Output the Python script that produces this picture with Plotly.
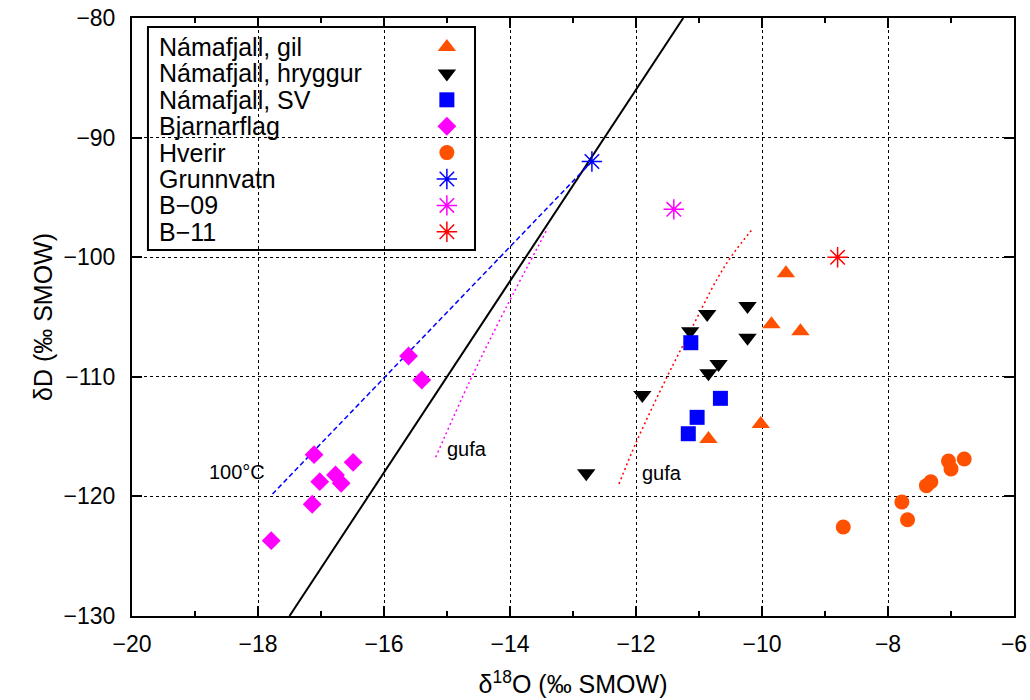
import plotly.graph_objects as go

# --- sample data: δ18O (x) and δD (y), ‰ SMOW ---
gil_x = [-9.62, -9.85, -9.39, -10.02, -10.85]
gil_y = [-101.35, -105.6, -106.2, -113.95, -115.2]

hryggur_x = [-10.87, -10.23, -11.14, -10.23, -10.69, -10.85, -11.90, -12.79]
hryggur_y = [-104.75, -104.08, -106.2, -106.73, -108.93, -109.7, -111.52, -118.07]

sv_x = [-11.13, -10.66, -11.03, -11.17]
sv_y = [-107.15, -111.8, -113.39, -114.76]

bjarnarflag_x = [-15.61, -15.40, -17.11, -16.49, -17.02, -16.77, -16.68, -17.14, -17.79]
bjarnarflag_y = [-108.26, -110.27, -116.51, -117.15, -118.77, -118.21, -118.9, -120.66, -123.7]

hverir_x = [-8.71, -7.78, -7.69, -7.39, -7.32, -7.04, -7.00, -6.79]
hverir_y = [-122.56, -120.47, -121.95, -119.1, -118.77, -117.04, -117.7, -116.87]

grunnvatn_x = [-12.70]
grunnvatn_y = [-92.0]
b09_x = [-11.40]
b09_y = [-96.0]
b11_x = [-8.80]
b11_y = [-100.0]

# meteoric water line
mwl_x = [-17.5, -11.25]
mwl_y = [-130.0, -80.0]

# mixing line from groundwater to 100 °C
mix_x = [-17.77, -12.70]
mix_y = [-119.8, -92.0]

# steam ("gufa") curves
gufa_b_x = [-15.18, -14.63, -14.08, -13.40]
gufa_b_y = [-116.73, -110.27, -104.4, -97.56]
gufa_r_x = [-12.27, -11.99, -11.50, -11.14, -10.72, -10.47, -10.14]
gufa_r_y = [-118.96, -115.4, -109.93, -106.2, -101.9, -99.8, -97.58]

ORANGE = "#ff5000"
FONT = "Liberation Sans, Arial, sans-serif"

legend_items = [
    ("Námafjall, gil", "triangle-up", ORANGE, 16),
    ("Námafjall, hryggur", "triangle-down", "black", 16),
    ("Námafjall, SV", "square", "#0000ff", 15),
    ("Bjarnarflag", "diamond", "#ff00ff", 14.5),
    ("Hverir", "circle", ORANGE, 15),
    ("Grunnvatn", "asterisk-open", "#0000ff", 17),
    ("B−09", "asterisk-open", "#ff00ff", 17),
    ("B−11", "asterisk-open", "#ff0000", 17),
]


def marker_style(sym, col, size):
    mk = dict(symbol=sym, color=col, size=size, line=dict(width=0))
    if sym.startswith("asterisk"):
        mk["line"] = dict(color=col, width=1.5)
    return mk


fig = go.Figure()

fig.add_trace(go.Scatter(x=mwl_x, y=mwl_y, mode="lines",
                         line=dict(color="black", width=2)))
fig.add_trace(go.Scatter(x=mix_x, y=mix_y, mode="lines",
                         line=dict(color="#0000ff", width=1.5, dash="5px,3px")))
fig.add_trace(go.Scatter(x=gufa_b_x, y=gufa_b_y, mode="lines",
                         line=dict(color="#ff00ff", width=1.5, dash="2px,3px", shape="spline")))
fig.add_trace(go.Scatter(x=gufa_r_x, y=gufa_r_y, mode="lines",
                         line=dict(color="#ff0000", width=1.5, dash="2px,3px", shape="spline")))

series = [
    (gil_x, gil_y), (hryggur_x, hryggur_y), (sv_x, sv_y),
    (bjarnarflag_x, bjarnarflag_y), (hverir_x, hverir_y),
    (grunnvatn_x, grunnvatn_y), (b09_x, b09_y), (b11_x, b11_y),
]
for (name, sym, col, size), (sx, sy) in zip(legend_items, series):
    fig.add_trace(go.Scatter(x=sx, y=sy, mode="markers", name=name,
                             marker=marker_style(sym, col, size)))

# legend key symbols on an overlay axis spanning the plot area (0..1)
row_top, row_step = 0.9515, 0.04415
key_x = 0.357
for i, (name, sym, col, size) in enumerate(legend_items):
    fig.add_trace(go.Scatter(x=[key_x], y=[row_top - i * row_step], mode="markers",
                             marker=marker_style(sym, col, size),
                             xaxis="x2", yaxis="y2", hoverinfo="skip"))

annotations = []
for i, (name, *_rest) in enumerate(legend_items):
    annotations.append(dict(x=0.0283, y=row_top - i * row_step, xref="paper", yref="paper",
                            text=name, showarrow=False, xanchor="left", yanchor="middle",
                            font=dict(family=FONT, size=25, color="black")))

note_font = dict(family=FONT, size=20, color="black")
annotations += [
    dict(x=-18.34, y=-118.0, text="100°C", showarrow=False, font=note_font),
    dict(x=-14.69, y=-116.06, text="gufa", showarrow=False, font=note_font),
    dict(x=-11.58, y=-118.07, text="gufa", showarrow=False, font=note_font),
]

axis_common = dict(
    showline=True, linecolor="black", linewidth=2, mirror="ticks",
    ticks="inside", ticklen=10, tickwidth=1.5, tickcolor="black",
    showgrid=True, gridcolor="black", gridwidth=1, griddash="dot",
    zeroline=False, automargin=False,
    tickfont=dict(family=FONT, size=23, color="black"),
)

fig.update_layout(
    width=1030, height=700,
    margin=dict(l=132, r=16, t=18, b=84),
    paper_bgcolor="white", plot_bgcolor="white",
    showlegend=False,
    font=dict(family=FONT, color="black"),
    xaxis=dict(range=[-20, -6], dtick=2, tick0=-20,
               minor=dict(dtick=1, ticks="inside", ticklen=5, tickcolor="black", showgrid=False),
               ticklabelstandoff=6,
               title=dict(text="δ<sup>18</sup>O (‰ SMOW)", standoff=20,
                          font=dict(family=FONT, size=25)),
               **axis_common),
    yaxis=dict(range=[-130, -80], dtick=10, tick0=-130,
               ticklabelstandoff=10,
               title=dict(text="δD (‰ SMOW)", standoff=4,
                          font=dict(family=FONT, size=25)),
               **axis_common),
    xaxis2=dict(overlaying="x", range=[0, 1], visible=False, fixedrange=True),
    yaxis2=dict(overlaying="y", range=[0, 1], visible=False, fixedrange=True),
    shapes=[dict(type="rect", xref="paper", yref="paper",
                 x0=0.0181, x1=0.3889, y0=0.612, y1=0.985,
                 fillcolor="white", line=dict(color="black", width=2),
                 layer="between")],
    annotations=annotations,
)

fig.write_html("out.html")
